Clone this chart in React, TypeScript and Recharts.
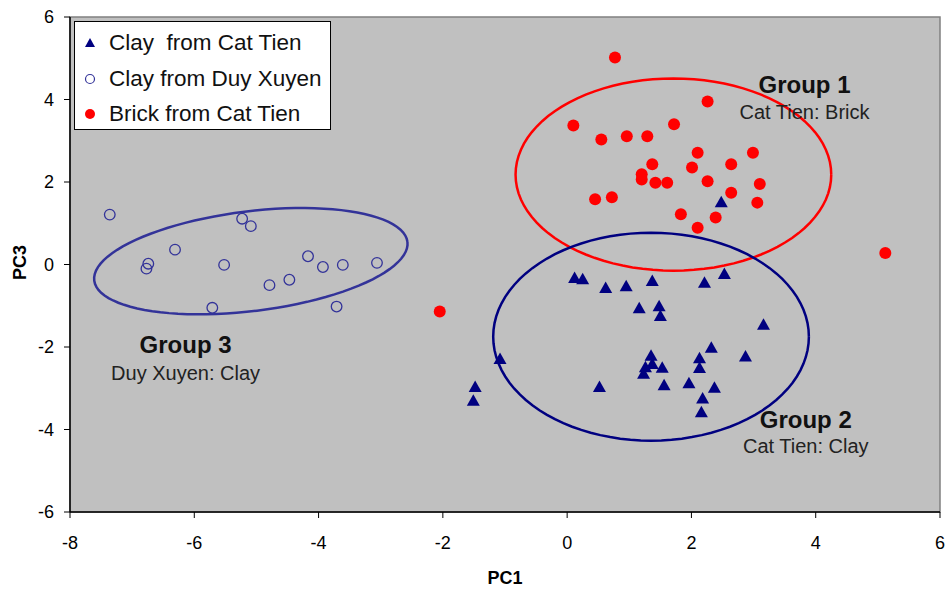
import React from "react";
import { ScatterChart, Scatter, XAxis, YAxis, ReferenceArea, ReferenceDot } from "recharts";

// Brick from Cat Tien (filled red dots)
const brickCatTien = [
  { x: 0.77, y: 5.02 }, { x: 0.10, y: 3.37 }, { x: 0.55, y: 3.03 }, { x: 0.96, y: 3.11 },
  { x: 1.29, y: 3.11 }, { x: 1.72, y: 3.40 }, { x: 2.26, y: 3.95 }, { x: 2.10, y: 2.71 },
  { x: 1.37, y: 2.43 }, { x: 2.01, y: 2.35 }, { x: 1.20, y: 2.19 }, { x: 1.20, y: 2.06 },
  { x: 1.42, y: 1.98 }, { x: 1.61, y: 1.98 }, { x: 2.26, y: 2.02 }, { x: 2.64, y: 2.43 },
  { x: 2.99, y: 2.71 }, { x: 3.10, y: 1.95 }, { x: 3.06, y: 1.50 }, { x: 2.64, y: 1.74 },
  { x: 2.39, y: 1.14 }, { x: 1.83, y: 1.22 }, { x: 2.10, y: 0.89 }, { x: 0.45, y: 1.58 },
  { x: 0.72, y: 1.63 }, { x: 5.12, y: 0.28 }, { x: -2.05, y: -1.14 },
];

// Clay from Cat Tien (navy triangles)
const clayCatTien = [
  { x: 0.12, y: -0.33 }, { x: 0.25, y: -0.36 }, { x: 0.62, y: -0.57 }, { x: 0.95, y: -0.53 },
  { x: 1.37, y: -0.40 }, { x: 2.21, y: -0.44 }, { x: 2.53, y: -0.23 }, { x: 2.48, y: 1.51 },
  { x: 1.16, y: -1.06 }, { x: 1.48, y: -1.01 }, { x: 1.50, y: -1.25 }, { x: 3.16, y: -1.46 },
  { x: -1.08, y: -2.29 }, { x: -1.48, y: -2.97 }, { x: -1.51, y: -3.30 }, { x: 0.52, y: -2.97 },
  { x: 1.35, y: -2.21 }, { x: 1.37, y: -2.41 }, { x: 1.26, y: -2.49 }, { x: 1.23, y: -2.65 },
  { x: 1.53, y: -2.50 }, { x: 1.56, y: -2.93 }, { x: 1.96, y: -2.88 }, { x: 2.32, y: -2.02 },
  { x: 2.13, y: -2.27 }, { x: 2.13, y: -2.51 }, { x: 2.87, y: -2.23 }, { x: 2.37, y: -2.99 },
  { x: 2.18, y: -3.25 }, { x: 2.16, y: -3.58 },
];

// Clay from Duy Xuyen (open circles)
const clayDuyXuyen = [
  { x: -7.36, y: 1.21 }, { x: -5.23, y: 1.11 }, { x: -5.09, y: 0.93 }, { x: -6.31, y: 0.36 },
  { x: -6.74, y: 0.02 }, { x: -6.77, y: -0.10 }, { x: -5.52, y: -0.01 }, { x: -4.17, y: 0.20 },
  { x: -3.93, y: -0.06 }, { x: -3.61, y: -0.01 }, { x: -3.06, y: 0.04 }, { x: -4.47, y: -0.37 },
  { x: -4.79, y: -0.50 }, { x: -5.71, y: -1.05 }, { x: -3.71, y: -1.02 },
];

// group ellipses: centre + two half-axis vectors (point = c + a*cos t + b*sin t)
const ellipses = [
  { id: "g1", color: "#FF0000", cx: 1.71, cy: 2.18, ax: 2.54, ay: 0, bx: 0, by: 2.33 },
  { id: "g2", color: "#000080", cx: 1.35, cy: -1.75, ax: 2.54, ay: 0, bx: 0, by: 2.52 },
  { id: "g3", color: "#333399", cx: -5.09, cy: 0.08, ax: 2.52, ay: 0.47, bx: -0.1, by: 1.2 },
];

const groupLabels = [
  { title: "Group 1", sub: "Cat Tien: Brick", x: 3.82, y: 4.36, subY: 3.71 },
  { title: "Group 2", sub: "Cat Tien: Clay", x: 3.84, y: -3.76, subY: -4.4 },
  { title: "Group 3", sub: "Duy Xuyen: Clay", x: -6.14, y: -1.94, subY: -2.63 },
];

const xTicks = [-8, -6, -4, -2, 0, 2, 4, 6];
const yTicks = [-6, -4, -2, 0, 2, 4, 6];

const FONT = "'Liberation Sans', Arial, sans-serif";

function ellipsePts(e: any) {
  const pts: { x: number; y: number }[] = [];
  for (let i = 0; i <= 96; i++) {
    const t = (i / 96) * Math.PI * 2;
    pts.push({
      x: e.cx + e.ax * Math.cos(t) + e.bx * Math.sin(t),
      y: e.cy + e.ay * Math.cos(t) + e.by * Math.sin(t),
    });
  }
  return pts;
}

const Triangle = (p: any) => (
  <polygon points={`${p.cx},${p.cy - 6.5} ${p.cx - 6.5},${p.cy + 5} ${p.cx + 6.5},${p.cy + 5}`} fill="#000080" />
);
const RedDot = (p: any) => <circle cx={p.cx} cy={p.cy} r={6} fill="#FF0000" />;
const OpenDot = (p: any) => <circle cx={p.cx} cy={p.cy} r={5.3} fill="none" stroke="#333399" strokeWidth={1.3} />;
const NoShape = () => <g />;

const tickStyle = { fill: "#000", fontSize: 18, fontFamily: FONT };

export default function App() {
  return (
    <div style={{ position: "absolute", left: 0, top: 0, width: 950, height: 600, background: "#fff", fontFamily: FONT }}>
      <ScatterChart width={950} height={600} margin={{ top: 17, right: 10, bottom: 0, left: 0 }}>
        <ReferenceArea x1={-8} x2={6} y1={-6} y2={6} fill="#C0C0C0" fillOpacity={1} stroke="#808080" strokeWidth={1.5} />
        <XAxis
          type="number" dataKey="x" domain={[-8, 6]} ticks={xTicks} height={88}
          axisLine={{ stroke: "#000", strokeWidth: 1.5 }} tickLine={{ stroke: "#000" }}
          tickSize={6} tickMargin={18} tick={tickStyle} allowDataOverflow
        />
        <YAxis
          type="number" dataKey="y" domain={[-6, 6]} ticks={yTicks} width={70}
          axisLine={{ stroke: "#000", strokeWidth: 1.5 }} tickLine={{ stroke: "#000" }}
          tickSize={6} tickMargin={10} tick={tickStyle} allowDataOverflow
        />
        {ellipses.map((e) => (
          <Scatter
            key={e.id} data={ellipsePts(e)} line={{ stroke: e.color, strokeWidth: 2.5 }}
            lineType="joint" shape={NoShape} isAnimationActive={false} legendType="none"
          />
        ))}
        <Scatter data={clayDuyXuyen} shape={OpenDot} isAnimationActive={false} />
        <Scatter data={brickCatTien} shape={RedDot} isAnimationActive={false} />
        <Scatter data={clayCatTien} shape={Triangle} isAnimationActive={false} />
        {groupLabels.map((g) => (
          <ReferenceDot
            key={g.title} x={g.x} y={g.y} r={0} stroke="none" fill="none"
            label={{ value: g.title, position: "center", fill: "#111", fontSize: 24, fontWeight: "bold", fontFamily: FONT }}
          />
        ))}
        {groupLabels.map((g) => (
          <ReferenceDot
            key={g.sub} x={g.x} y={g.subY} r={0} stroke="none" fill="none"
            label={{ value: g.sub, position: "center", fill: "#222", fontSize: 20, fontFamily: FONT }}
          />
        ))}
      </ScatterChart>

      {/* axis titles */}
      <div style={{ position: "absolute", left: 470, top: 568, width: 70, textAlign: "center", fontWeight: "bold", fontSize: 18 }}>PC1</div>
      <div style={{ position: "absolute", left: -15, top: 252, width: 70, textAlign: "center", fontWeight: "bold", fontSize: 18, transform: "rotate(-90deg)" }}>PC3</div>

      {/* legend */}
      <div style={{ position: "absolute", left: 74, top: 21, width: 257, height: 109, boxSizing: "border-box", border: "1.5px solid #000", background: "#fff", fontSize: 22.5, color: "#111" }}>
        {[
          { label: "Clay  from Cat Tien", icon: <polygon points="9,4 14,13 4,13" fill="#000080" /> },
          { label: "Clay from Duy Xuyen", icon: <circle cx={9} cy={9} r={4.5} fill="none" stroke="#333399" strokeWidth={1.2} /> },
          { label: "Brick from Cat Tien", icon: <circle cx={9} cy={9} r={5} fill="#FF0000" /> },
        ].map((it, i) => (
          <div key={i} style={{ position: "absolute", left: 6, top: 6 + i * 35.5, height: 30, display: "flex", alignItems: "center", whiteSpace: "pre" }}>
            <svg width={18} height={18} style={{ marginRight: 10 }}>{it.icon}</svg>
            <span>{it.label}</span>
          </div>
        ))}
      </div>
    </div>
  );
}
